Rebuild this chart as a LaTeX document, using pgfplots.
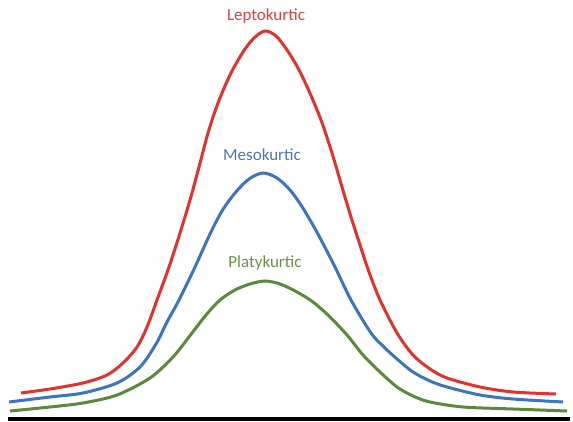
\documentclass[border=0pt]{standalone}
\usepackage{pgfplots}
\pgfplotsset{compat=1.18}
\usepackage{fontspec}
\setmainfont{Carlito}
\definecolor{lred}{HTML}{E3312B}
\definecolor{lblue}{HTML}{3B74C2}
\definecolor{lgreen}{HTML}{5A8A37}
\definecolor{tred}{HTML}{E2403A}
\definecolor{tblue}{HTML}{4C74BE}
\definecolor{tgreen}{HTML}{6A9244}
\begin{document}
\begin{tikzpicture}
\begin{axis}[
  width=573pt, height=422pt, scale only axis,
  xmin=0, xmax=573, ymin=0, ymax=422, y dir=reverse,
  hide axis, clip=false,
]
\path (rel axis cs:0,0) rectangle (rel axis cs:1,1);
\addplot[black, line width=4pt] coordinates {(8,419) (570,419)};
\addplot[lred, line width=3pt, smooth] coordinates {
(21,393) (50,389) (83,383) (107,375) (123,363) (137,347) (147,327) (157,300)
(169,267) (180,233) (190,200) (199,167) (208,133) (218,103) (230,75) (243,52)
(254,38) (265,31) (276,36) (287,50) (298,68) (309,91) (321,120) (332,153)
(342,187) (351,217) (360,245) (369,272) (380,300) (397,333) (413,355)
(430,369) (447,378) (480,387) (513,392) (556,394)};
\addplot[lblue, line width=3pt, smooth] coordinates {
(9,402) (50,397) (83,393) (117,383) (140,367) (156,344) (167,322) (179,300)
(195,267) (210,234) (222,211) (235,193) (249,179) (263,173) (277,178)
(290,190) (301,205) (310,220) (319,236) (335,267) (351,300) (371,333)
(384,347) (397,359) (413,372) (430,381) (447,387) (480,395) (513,399) (563,402)};
\addplot[lgreen, line width=3pt, smooth] coordinates {
(10,411) (50,407) (83,403) (117,395) (150,378) (173,357) (192,333) (206,315)
(220,300) (235,290) (250,284) (265,281) (280,284) (297,292) (313,302)
(330,317) (347,335) (363,355) (380,372) (397,387) (413,396) (430,402)
(463,407) (513,409) (567,411)};
\node[text=tred, anchor=base, font=\fontsize{17}{20}\selectfont] at (axis cs:266,21) {Leptokurtic};
\node[text=tblue, anchor=base, font=\fontsize{17}{20}\selectfont] at (axis cs:262,161) {Mesokurtic};
\node[text=tgreen, anchor=base, font=\fontsize{17}{20}\selectfont] at (axis cs:265,267) {Platykurtic};
\end{axis}
\end{tikzpicture}
\end{document}
